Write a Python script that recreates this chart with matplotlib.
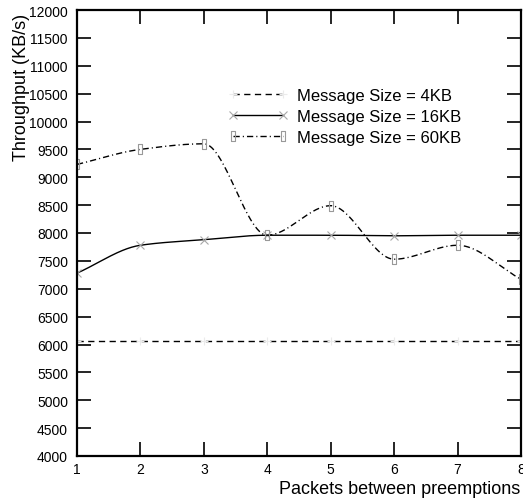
import numpy as np
import matplotlib
matplotlib.use("Agg")
import matplotlib.pyplot as plt
from matplotlib.legend_handler import HandlerLine2D

packets = [1, 2, 3, 4, 5, 6, 7, 8]
thr_4kb = [6060, 6060, 6060, 6060, 6060, 6060, 6060, 6060]
thr_16kb = [7280, 7780, 7880, 7960, 7960, 7950, 7960, 7960]
thr_60kb = [9230, 9500, 9600, 7960, 8490, 7530, 7780, 7170]
labels = ["Message Size = 4KB", "Message Size = 16KB", "Message Size = 60KB"]
yticks = list(range(4000, 12001, 500))


def monotone_spline(x, y, n=400):
    """Monotone cubic (Fritsch-Carlson) curve through the data points."""
    x = np.asarray(x, float)
    y = np.asarray(y, float)
    h = np.diff(x)
    d = np.diff(y) / h
    k = len(x)
    m = np.zeros(k)
    m[0] = d[0]
    m[-1] = d[-1]
    for i in range(1, k - 1):
        if d[i - 1] * d[i] <= 0:
            m[i] = 0.0
        else:
            w1 = 2 * h[i] + h[i - 1]
            w2 = h[i] + 2 * h[i - 1]
            m[i] = (w1 + w2) / (w1 / d[i - 1] + w2 / d[i])
    xs = np.linspace(x[0], x[-1], n)
    ys = np.empty_like(xs)
    for j, xv in enumerate(xs):
        i = min(np.searchsorted(x, xv, side="right") - 1, k - 2)
        t = (xv - x[i]) / h[i]
        h00 = 2 * t ** 3 - 3 * t ** 2 + 1
        h10 = t ** 3 - 2 * t ** 2 + t
        h01 = -2 * t ** 3 + 3 * t ** 2
        h11 = t ** 3 - t ** 2
        ys[j] = h00 * y[i] + h10 * h[i] * m[i] + h01 * y[i + 1] + h11 * h[i] * m[i + 1]
    return xs, ys


plt.rcParams["font.family"] = ["Liberation Sans", "DejaVu Sans"]

fig = plt.figure(figsize=(5.23, 5.02), dpi=100)
ax = fig.add_axes([77 / 523, 45 / 502, 444 / 523, 446 / 502])

rect = [(-0.35, -1), (0.35, -1), (0.35, 1), (-0.35, 1), (-0.35, -1)]
series = [
    (thr_4kb, dict(dashes=(4.5, 3.2)), "+", "#ebebeb", 6),
    (thr_16kb, dict(linestyle="-"), "x", "#a8a8a8", 6),
    (thr_60kb, dict(dashes=(4.5, 2.2, 0.8, 2.2)), rect, "#999999", 6.5),
]
handles = []
for (vals, ls, mk, mc, ms), lab in zip(series, labels):
    xs, ys = monotone_spline(packets, vals)
    ax.plot(xs, ys, color="black", lw=1.0, **ls)
    ax.plot(packets, vals, linestyle="none", marker=mk, markersize=ms,
            markerfacecolor="none", markeredgecolor=mc, markeredgewidth=0.8)
    h, = ax.plot([], [], color="black", lw=1.0, marker=mk, markersize=ms,
                 markerfacecolor="none", markeredgecolor=mc,
                 markeredgewidth=0.8, label=lab, **ls)
    handles.append(h)

ax.set_xlim(1, 8)
ax.set_ylim(4000, 12000)
ax.set_xticks(packets)
ax.set_yticks(yticks)
ax.tick_params(axis="both", direction="in", length=10, width=1.2,
               top=True, right=True, labelsize=10, colors="black")
ax.tick_params(axis="y", pad=6.5)
ax.tick_params(axis="x", pad=4)
for s in ax.spines.values():
    s.set_linewidth(1.6)

hm = {h: HandlerLine2D(numpoints=2, marker_pad=-0.42) for h in handles}
ax.legend(handles=handles, loc="upper left", bbox_to_anchor=(0.367, 0.825),
          frameon=False, fontsize=12, handlelength=2.16, handletextpad=1.26,
          borderpad=0, borderaxespad=0, labelspacing=0.36, handler_map=hm)

fig.text(22 / 523, 1 - 87 / 502, "Throughput (KB/s)", rotation=90,
         ha="center", va="center", fontsize=13)
fig.text(520 / 523, 1 - 490 / 502, "Packets between preemptions",
         ha="right", va="center", fontsize=13)

fig.savefig("out.png", dpi=100)
